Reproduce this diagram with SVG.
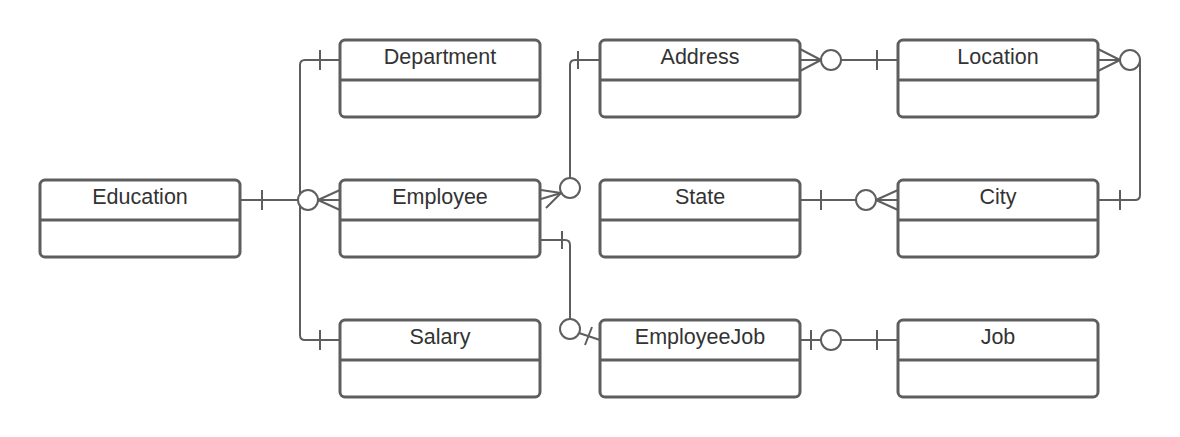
<svg xmlns="http://www.w3.org/2000/svg" width="1180" height="437" viewBox="0 0 1180 437">
<style>
.box{fill:#fff;stroke:#5e5e5e;stroke-width:3}
.div{stroke:#5e5e5e;stroke-width:3}
.t{font-family:"Liberation Sans",Arial,sans-serif;font-size:21.5px;fill:#333;text-anchor:middle}
.c{fill:none;stroke:#5e5e5e;stroke-width:2}
.o{fill:#fff;stroke:#5e5e5e;stroke-width:2}
</style>
<rect width="1180" height="437" fill="#fff"/>
<g id="connectors">
<path class="c" d="M240,200 H340"/>
<path class="c" d="M262,190 V210"/>
<path class="c" d="M340,60 H305 Q300,60 300,65 V335 Q300,340 305,340 H340"/>
<path class="c" d="M320,50 V70 M320,330 V350"/>
<circle class="o" cx="308" cy="200" r="10"/>
<path class="c" d="M318,200 L340,190 M318,200 H340 M318,200 L340,210"/>
<path class="c" d="M541,199 L561,193 M600,60 H575 Q570,60 570,65 V178"/>
<path class="c" d="M578,51 V69"/>
<circle class="o" cx="570" cy="188" r="10"/>
<path class="c" d="M561,193 L541,190 M561,193 L546,208"/>
<path class="c" d="M540,240 H565 Q570,240 570,245 V319"/>
<path class="c" d="M562,231 V249"/>
<circle class="o" cx="570" cy="329" r="10"/>
<path class="c" d="M579,333 L600,340 M585,345 L592,327"/>
<path class="c" d="M841,60 H898 M877,50 V70"/>
<circle class="o" cx="831" cy="60" r="10"/>
<path class="c" d="M821,60 L800,49 M821,60 H800 M821,60 L800,71"/>
<path class="c" d="M1140,60 V195 Q1140,200 1135,200 H1098 M1120,190 V210"/>
<circle class="o" cx="1130" cy="60" r="10"/>
<path class="c" d="M1120,60 L1098,49 M1120,60 H1098 M1120,60 L1098,71"/>
<path class="c" d="M800,200 H856 M821,190 V210"/>
<circle class="o" cx="866" cy="200" r="10"/>
<path class="c" d="M876,200 L898,190 M876,200 H898 M876,200 L898,210"/>
<path class="c" d="M800,340 H821 M841,340 H898 M811,330 V350 M877,330 V350"/>
<circle class="o" cx="831" cy="340" r="10"/>
</g>
<g id="education"><rect class="box" x="40" y="180" width="200" height="77" rx="5"/><line class="div" x1="40" y1="220" x2="240" y2="220"/><text class="t" x="140" y="203.5">Education</text></g>
<g id="department"><rect class="box" x="340" y="40" width="200" height="77" rx="5"/><line class="div" x1="340" y1="80" x2="540" y2="80"/><text class="t" x="440" y="63.5">Department</text></g>
<g id="employee"><rect class="box" x="340" y="180" width="200" height="77" rx="5"/><line class="div" x1="340" y1="220" x2="540" y2="220"/><text class="t" x="440" y="203.5">Employee</text></g>
<g id="salary"><rect class="box" x="340" y="320" width="200" height="77" rx="5"/><line class="div" x1="340" y1="360" x2="540" y2="360"/><text class="t" x="440" y="343.5">Salary</text></g>
<g id="address"><rect class="box" x="600" y="40" width="200" height="77" rx="5"/><line class="div" x1="600" y1="80" x2="800" y2="80"/><text class="t" x="700" y="63.5">Address</text></g>
<g id="state"><rect class="box" x="600" y="180" width="200" height="77" rx="5"/><line class="div" x1="600" y1="220" x2="800" y2="220"/><text class="t" x="700" y="203.5">State</text></g>
<g id="employeejob"><rect class="box" x="600" y="320" width="200" height="77" rx="5"/><line class="div" x1="600" y1="360" x2="800" y2="360"/><text class="t" x="700" y="343.5">EmployeeJob</text></g>
<g id="location"><rect class="box" x="898" y="40" width="200" height="77" rx="5"/><line class="div" x1="898" y1="80" x2="1098" y2="80"/><text class="t" x="998" y="63.5">Location</text></g>
<g id="city"><rect class="box" x="898" y="180" width="200" height="77" rx="5"/><line class="div" x1="898" y1="220" x2="1098" y2="220"/><text class="t" x="998" y="203.5">City</text></g>
<g id="job"><rect class="box" x="898" y="320" width="200" height="77" rx="5"/><line class="div" x1="898" y1="360" x2="1098" y2="360"/><text class="t" x="998" y="343.5">Job</text></g>
</svg>
